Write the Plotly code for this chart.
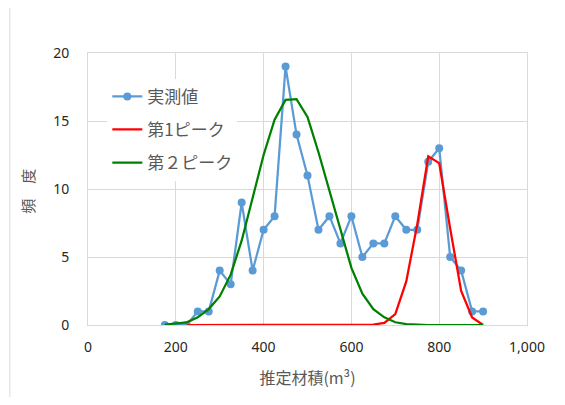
import plotly.graph_objects as go

# Data
volume = [175, 200, 225, 250, 275, 300, 325, 350, 375, 400, 425, 450, 475, 500, 525,
          550, 575, 600, 625, 650, 675, 700, 725, 750, 775, 800, 825, 850, 875, 900]
observed = [0, 0, 0, 1, 1, 4, 3, 9, 4, 7, 8, 19, 14, 11, 7,
            8, 6, 8, 5, 6, 6, 8, 7, 7, 12, 13, 5, 4, 1, 1]

peak1_x = [225, 250, 275, 300, 325, 350, 375, 400, 425, 450, 475, 500, 525, 550, 575,
           600, 625, 650, 675, 700, 725, 750, 775, 800, 825, 850, 875, 900]
peak1 = [0, 0, 0, 0, 0, 0, 0, 0, 0, 0, 0, 0, 0, 0, 0,
         0, 0, 0.03, 0.15, 0.8, 3.2, 7.4, 12.4, 11.9, 7.1, 2.5, 0.55, 0]

peak2_x = volume
peak2 = [0.03, 0.1, 0.2, 0.56, 1.17, 2.1, 3.7, 6.2, 9.3, 12.5, 15.1, 16.55, 16.6, 15.3, 12.7,
         9.8, 6.9, 4.2, 2.3, 1.17, 0.56, 0.2, 0.07, 0.02, 0, 0, 0, 0, 0, 0]

names = ["実測値", "第1ピーク", "第２ピーク"]

x_ticks = [0, 200, 400, 600, 800, 1000]
y_ticks = [0, 5, 10, 15, 20]

JP = "Noto Sans CJK JP"
GRAY = "#595959"
GRID = "#d9d9d9"

fig = go.Figure()
fig.add_trace(go.Scatter(
    x=volume, y=observed, name=names[0], mode="lines+markers",
    line=dict(color="#5b9bd5", width=2.25),
    marker=dict(color="#5b9bd5", size=8),
    legendgroup="a"))
fig.add_trace(go.Scatter(
    x=peak1_x, y=peak1, name=names[1], mode="lines",
    line=dict(color="#ff0000", width=2.25),
    legendgroup="b"))
fig.add_trace(go.Scatter(
    x=peak2_x, y=peak2, name=names[2], mode="lines",
    line=dict(color="#008000", width=2.25),
    legendgroup="c"))

fig.update_layout(
    width=549, height=389,
    margin=dict(l=80, r=24, t=45, b=69),
    paper_bgcolor="white", plot_bgcolor="white",
    font=dict(family=JP, size=14, color=GRAY),
    showlegend=True,
    legend=dict(
        x=0.044, y=0.905, xanchor="left", yanchor="top",
        bgcolor="white", tracegroupgap=8,
        font=dict(family=JP, size=17, color=GRAY),
        itemwidth=30,
    ),
    xaxis=dict(
        range=[0, 1000], tickvals=x_ticks, tickformat=",",
        showgrid=True, gridcolor=GRID, gridwidth=1,
        showline=True, linecolor=GRID, linewidth=1, mirror=True,
        zeroline=False, ticks="",
        tickfont=dict(family="Noto Sans", size=14, color="#262626"),
        ticklabelstandoff=9,
        title=dict(text="推定材積(m³)", font=dict(family=JP, size=16, color=GRAY), standoff=18),
    ),
    yaxis=dict(
        range=[0, 20], tickvals=y_ticks,
        showgrid=True, gridcolor=GRID, gridwidth=1,
        showline=True, linecolor=GRID, linewidth=1, mirror=True,
        zeroline=False, ticks="",
        tickfont=dict(family="Noto Sans", size=14, color="#262626"),
        ticklabelstandoff=15,
    ),
    annotations=[dict(
        text="頻　度", textangle=-90, xref="paper", yref="paper",
        x=-0.165, y=0.49, showarrow=False,
        font=dict(family=JP, size=15, color=GRAY))],
    shapes=[dict(type="line", xref="paper", yref="paper",
                 x0=-0.178, x1=-0.178, y0=-0.3, y1=1.2,
                 line=dict(color=GRID, width=1))],
)

fig.write_html("out.html")
